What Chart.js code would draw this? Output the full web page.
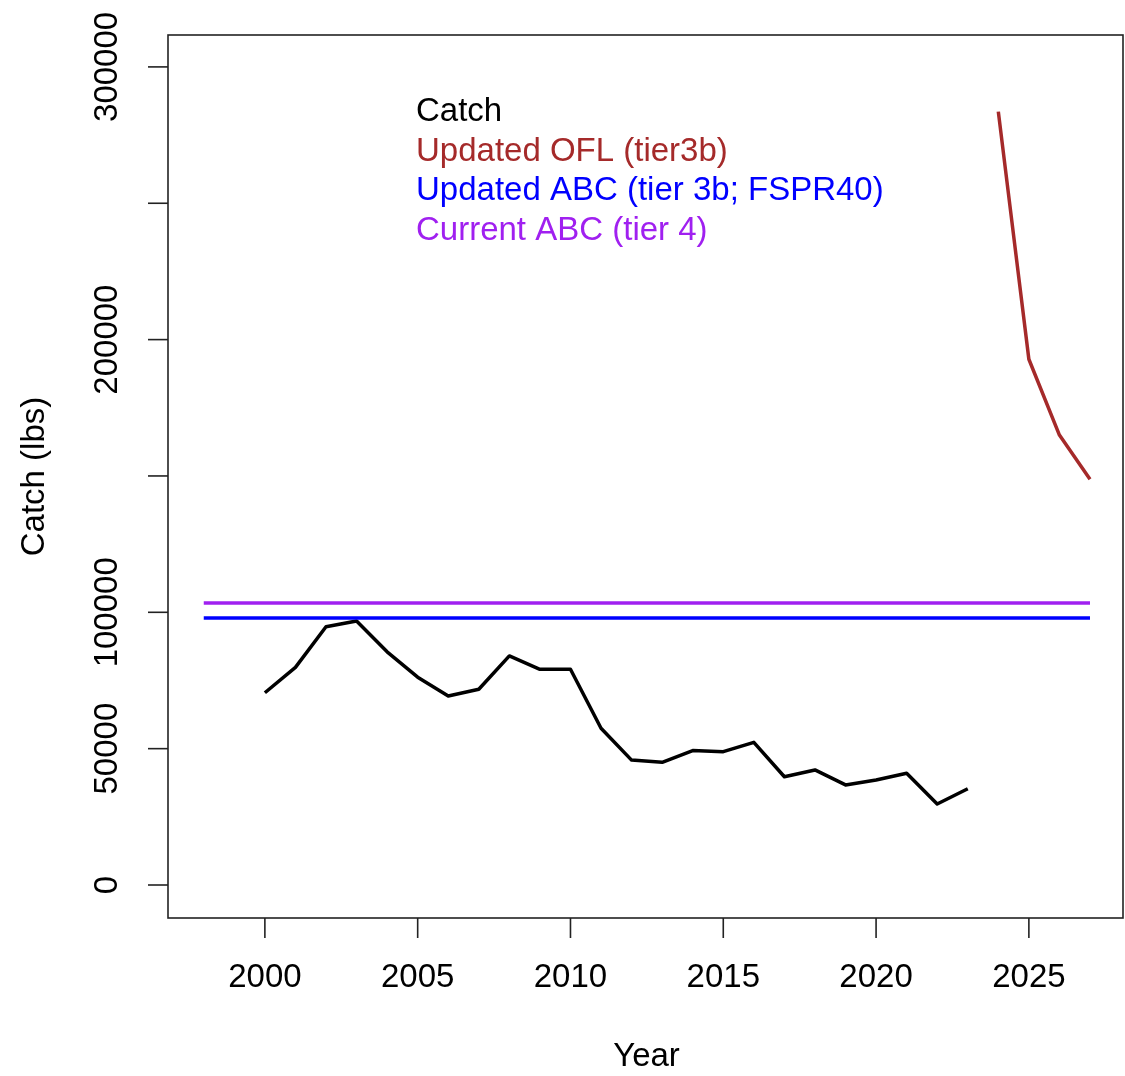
<!DOCTYPE html>
<html>
<head>
<meta charset="utf-8">
<title>Catch vs OFL / ABC</title>
<script src="https://cdn.jsdelivr.net/npm/chart.js@4.4.1/dist/chart.umd.min.js"></script>
<style>
  html, body { margin: 0; padding: 0; background: #fff; }
  #wrap { width: 1125px; height: 1076px; position: relative; }
</style>
</head>
<body>
<div id="wrap"><canvas id="catchPlot"></canvas></div>
<script>
// ====== DATA ====== //
const catchYears = [2000, 2001, 2002, 2003, 2004, 2005, 2006, 2007, 2008, 2009, 2010, 2011,
                    2012, 2013, 2014, 2015, 2016, 2017, 2018, 2019, 2020, 2021, 2022, 2023];
const catchLbs = [70500, 79800, 94700, 96800, 85500, 76200, 69300, 71800, 84000, 79100, 79100, 57500,
                  45800, 45000, 49300, 48900, 52300, 39700, 42200, 36700, 38500, 41000, 29700, 35300];

const oflYears = [2024, 2025, 2026, 2027];
const oflLbs = [283600, 192800, 165000, 148800];

const abcYears = [1998, 2027];
const updatedAbc = [97900, 97900];
const currentAbc = [103400, 103400];

const xTicks = [2000, 2005, 2010, 2015, 2020, 2025];
const yTicks = [0, 50000, 100000, 150000, 200000, 250000, 300000];
const yTickLabels = ["0", "50000", "100000", "", "200000", "", "300000"];

const legendLabels = ["Catch", "Updated OFL (tier3b)", "Updated ABC (tier 3b; FSPR40)", "Current ABC (tier 4)"];
const legendColors = ["#000000", "#A52A2A", "#0000FF", "#A020F0"];

const FONT = '33px "Liberation Sans", Arial, sans-serif';

function toPoints(xs, ys) {
    return xs.map((x, i) => ({ x: x, y: ys[i] }));
}

// ====== R-STYLE AXES, BOX, LABELS ====== //
const baseAxes = {
    id: 'baseAxes',
    afterDraw(chart) {
        const ctx = chart.ctx;
        const area = chart.chartArea;
        const xs = chart.scales.x;
        const ys = chart.scales.y;
        ctx.save();
        ctx.strokeStyle = '#222';
        ctx.lineWidth = 1.6;
        ctx.strokeRect(area.left, area.top, area.right - area.left, area.bottom - area.top);

        ctx.fillStyle = '#000';
        ctx.font = FONT;

        // x ticks
        ctx.textAlign = 'center';
        ctx.textBaseline = 'middle';
        xTicks.forEach(v => {
            const px = xs.getPixelForValue(v);
            ctx.beginPath();
            ctx.moveTo(px, area.bottom);
            ctx.lineTo(px, area.bottom + 20);
            ctx.stroke();
            ctx.fillText(String(v), px, area.bottom + 60);
        });

        // y ticks (labels vertical like R)
        yTicks.forEach((v, i) => {
            const py = ys.getPixelForValue(v);
            ctx.beginPath();
            ctx.moveTo(area.left - 20, py);
            ctx.lineTo(area.left, py);
            ctx.stroke();
            if (yTickLabels[i]) {
                ctx.save();
                ctx.translate(area.left - 60, py);
                ctx.rotate(-Math.PI / 2);
                ctx.fillText(yTickLabels[i], 0, 0);
                ctx.restore();
            }
        });

        // axis titles
        ctx.fillText('Year', (area.left + chart.width) / 2, area.bottom + 139);
        ctx.save();
        ctx.translate(area.left - 133, (area.top + area.bottom) / 2);
        ctx.rotate(-Math.PI / 2);
        ctx.fillText('Catch (lbs)', 0, 0);
        ctx.restore();

        // legend (text only)
        ctx.textAlign = 'left';
        legendLabels.forEach((t, i) => {
            ctx.fillStyle = legendColors[i];
            ctx.fillText(t, area.left + 248, area.top + 77 + i * 39.6);
        });
        ctx.restore();
    }
};

// ====== CHART ====== //
const ctx = document.getElementById('catchPlot').getContext('2d');

const chart = new Chart(ctx, {
    type: 'line',
    data: {
        datasets: [
            {
                label: 'Current ABC (tier 4)',
                data: toPoints(abcYears, currentAbc),
                borderColor: legendColors[3],
                borderWidth: 3.5
            },
            {
                label: 'Updated ABC (tier 3b; FSPR40)',
                data: toPoints(abcYears, updatedAbc),
                borderColor: legendColors[2],
                borderWidth: 3.5
            },
            {
                label: 'Updated OFL (tier3b)',
                data: toPoints(oflYears, oflLbs),
                borderColor: legendColors[1],
                borderWidth: 3.5
            },
            {
                label: 'Catch',
                data: toPoints(catchYears, catchLbs),
                borderColor: legendColors[0],
                borderWidth: 3.5
            }
        ]
    },
    options: {
        animation: false,
        responsive: true,
        maintainAspectRatio: false,
        devicePixelRatio: 1,
        layout: {
            padding: { left: 168, right: 2, top: 35, bottom: 158 }
        },
        elements: {
            point: { radius: 0 },
            line: { tension: 0, fill: false, borderCapStyle: 'butt', borderJoinStyle: 'round' }
        },
        scales: {
            x: { type: 'linear', display: false, min: 1996.83, max: 2028.08 },
            y: { type: 'linear', display: false, min: -12100, max: 311700 }
        },
        plugins: {
            legend: { display: false },
            tooltip: { enabled: false }
        }
    },
    plugins: [baseAxes]
});
</script>
</body>
</html>
